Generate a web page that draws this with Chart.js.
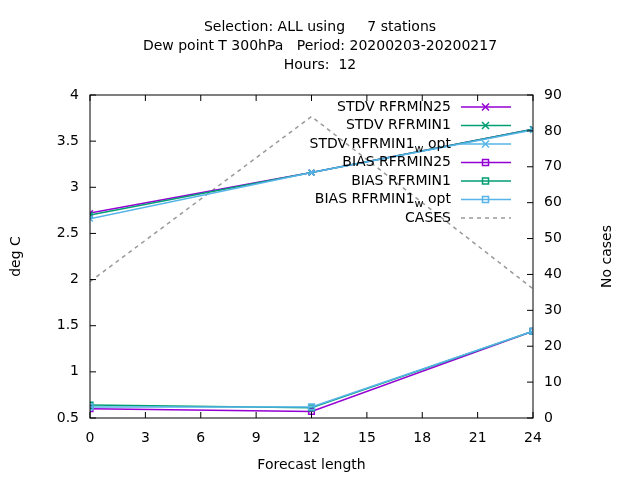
<!DOCTYPE html>
<html><head><meta charset="utf-8">
<script src="https://cdn.jsdelivr.net/npm/chart.js@4/dist/chart.umd.min.js"></script>
<style>body{margin:0;background:#fff}</style></head>
<body><canvas id="c" width="640" height="480"></canvas>
<script>
const hours = [0, 12, 24];
const stdvRfrmin25 = [2.72, 3.16, 3.63];
const stdvRfrmin1 = [2.70, 3.16, 3.63];
const stdvRfrmin1W = [2.66, 3.16, 3.62];
const biasRfrmin25 = [0.60, 0.57, 1.44];
const biasRfrmin1 = [0.64, 0.61, 1.44];
const biasRfrmin1W = [0.62, 0.62, 1.44];
const cases = [38, 84, 36];
const titleLines = ['Selection: ALL using     7 stations', 'Dew point T 300hPa   Period: 20200203-20200217', 'Hours:  12'];

const FONT = '"DejaVu Sans", sans-serif';
const pts = a => a.map((v, i) => ({x: hours[i], y: v}));
function ds(label, data, color, style, axis, order, dash) {
    return {label, data: pts(data), borderColor: color, backgroundColor: color, borderWidth: 1.5,
        pointStyle: style, pointRadius: style ? 4 : 0, pointBorderWidth: 1.5, order,
        pointBackgroundColor: 'rgba(0,0,0,0)', yAxisID: axis, borderDash: dash || []};
}
const datasets = [
    ds('STDV RFRMIN25', stdvRfrmin25, '#9400d3', 'crossRot', 'y', 7),
    ds('STDV RFRMIN1', stdvRfrmin1, '#009e73', 'crossRot', 'y', 6),
    ds('STDV RFRMIN1|w| opt', stdvRfrmin1W, '#56b4e9', 'crossRot', 'y', 5),
    ds('BIAS RFRMIN25', biasRfrmin25, '#9400d3', 'rect', 'y', 4),
    ds('BIAS RFRMIN1', biasRfrmin1, '#009e73', 'rect', 'y', 3),
    ds('BIAS RFRMIN1|w| opt', biasRfrmin1W, '#56b4e9', 'rect', 'y', 2),
    ds('CASES', cases, '#999999', false, 'y2', 8, [4, 4])
];

const deco = {
    id: 'deco',
    afterDraw(chart) {
        const c = chart.ctx, a = chart.chartArea;
        c.save();
        c.fillStyle = '#000'; c.font = '14px ' + FONT; c.textAlign = 'center'; c.textBaseline = 'middle';
        titleLines.forEach((t, i) => c.fillText(t, 320, 27 + i * 19));
        c.fillText('Forecast length', (a.left + a.right) / 2, 465);
        c.save(); c.translate(16, (a.top + a.bottom) / 2); c.rotate(-Math.PI / 2); c.fillText('deg C', 0, 0); c.restore();
        c.save(); c.translate(607, (a.top + a.bottom) / 2); c.rotate(-Math.PI / 2); c.fillText('No cases', 0, 0); c.restore();
        c.strokeStyle = '#000'; c.lineWidth = 1;
        c.strokeRect(a.left, a.top, a.right - a.left, a.bottom - a.top);
        c.beginPath();
        chart.scales.x.ticks.forEach(t => { const x = chart.scales.x.getPixelForValue(t.value);
            c.moveTo(x, a.bottom); c.lineTo(x, a.bottom - 6); c.moveTo(x, a.top); c.lineTo(x, a.top + 6); });
        chart.scales.y.ticks.forEach(t => { const y = chart.scales.y.getPixelForValue(t.value);
            c.moveTo(a.left, y); c.lineTo(a.left + 6, y); });
        chart.scales.y2.ticks.forEach(t => { const y = chart.scales.y2.getPixelForValue(t.value);
            c.moveTo(a.right, y); c.lineTo(a.right - 6, y); });
        c.stroke();
        c.textAlign = 'right';
        datasets.forEach((d, i) => {
            const y = 107 + i * 18.5;
            const parts = d.label.split('|');
            c.font = '14px ' + FONT; c.fillStyle = '#000';
            let x = 451;
            if (parts.length === 3) {
                c.fillText(parts[2], x, y); x -= c.measureText(parts[2]).width;
                c.font = '11px ' + FONT; c.fillText(parts[1], x, y + 5); x -= c.measureText(parts[1]).width;
                c.font = '14px ' + FONT;
            }
            c.fillText(parts[0], x, y);
            c.strokeStyle = d.borderColor; c.lineWidth = 1.5; c.setLineDash(d.borderDash);
            c.beginPath(); c.moveTo(461, y); c.lineTo(511, y); c.stroke(); c.setLineDash([]);
            if (d.pointStyle === 'crossRot') {
                c.beginPath(); c.moveTo(482, y - 3.5); c.lineTo(489, y + 3.5); c.moveTo(482, y + 3.5); c.lineTo(489, y - 3.5); c.stroke();
            } else if (d.pointStyle === 'rect') {
                c.strokeRect(482.5, y - 3, 6, 6);
            }
        });
        c.restore();
    }
};

const tickFont = {size: 14, family: FONT};
new Chart(document.getElementById('c'), {
    type: 'line',
    data: {datasets},
    options: {
        responsive: false, animation: false,
        layout: {padding: {top: 95, right: 0, left: 0, bottom: 0}},
        plugins: {legend: {display: false}, tooltip: {enabled: false}},
        scales: {
            x: {type: 'linear', min: 0, max: 24, ticks: {stepSize: 3, color: '#000', font: tickFont, padding: 4},
                grid: {display: false}, border: {display: false},
                afterFit(s) { s.height = 62; }},
            y: {min: 0.5, max: 4, ticks: {stepSize: 0.5, color: '#000', font: tickFont, callback: v => String(v)},
                grid: {display: false}, border: {display: false},
                afterFit(s) { s.width = 90; }},
            y2: {position: 'right', min: 0, max: 90, ticks: {stepSize: 10, color: '#000', font: tickFont},
                grid: {display: false}, border: {display: false},
                afterFit(s) { s.width = 107; }}
        }
    },
    plugins: [deco]
});
</script></body></html>
